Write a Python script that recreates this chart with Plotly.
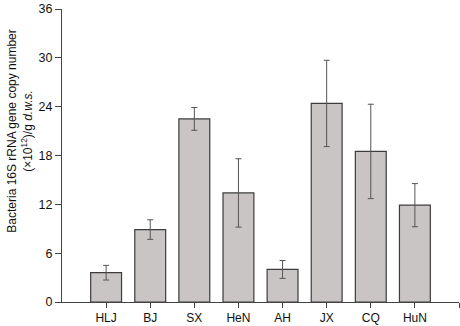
import plotly.graph_objects as go

categories = ["HLJ", "BJ", "SX", "HeN", "AH", "JX", "CQ", "HuN"]
values = [3.6, 8.9, 22.5, 13.4, 4.0, 24.4, 18.5, 11.9]
errors = [0.9, 1.2, 1.4, 4.2, 1.1, 5.3, 5.8, 2.65]
y_ticks = [0, 6, 12, 18, 24, 30, 36]

positions = list(range(1, len(categories) + 1))

fig = go.Figure()
fig.add_trace(go.Bar(
    x=positions, y=values, width=0.7,
    marker=dict(color="#c8c5c4", line=dict(color="#3c3c3c", width=1.2)),
    error_y=dict(type="data", array=errors, visible=True, color="#555555", thickness=1, width=3),
    showlegend=False,
))

fig.update_layout(
    width=460, height=326,
    margin=dict(l=62, r=1, t=9, b=24),
    paper_bgcolor="white", plot_bgcolor="white",
    font=dict(family="Liberation Sans, Arial", size=12, color="#111"),
)
fig.update_xaxes(
    range=[0, 9],
    tickvals=positions + [9], ticktext=categories + [""],
    ticks="outside", ticklen=5, tickcolor="#444", tickwidth=1,
    showline=True, linecolor="#444", linewidth=1,
    showgrid=False, zeroline=False,
    tickfont=dict(size=12, color="#111"),
)
fig.update_yaxes(
    range=[0, 36], tickvals=y_ticks,
    ticks="outside", ticklen=6, tickcolor="#444", tickwidth=1,
    showline=True, linecolor="#444", linewidth=1,
    showgrid=False, zeroline=False,
    tickfont=dict(size=12.5, color="#111"),
)
fig.add_annotation(
    xref="paper", yref="paper", x=-0.1045, y=0.583,
    text="Bacteria 16S rRNA gene copy number<br>(×10<sup>12</sup>)/g <i>d.w.s.</i>",
    textangle=-90, showarrow=False, font=dict(size=12, color="#111"),
    xanchor="center", yanchor="middle",
)

fig.write_html(
    "out.html",
    config={"displayModeBar": False},
    post_script="document.body.style.margin='0';document.body.style.overflow='hidden';",
)
